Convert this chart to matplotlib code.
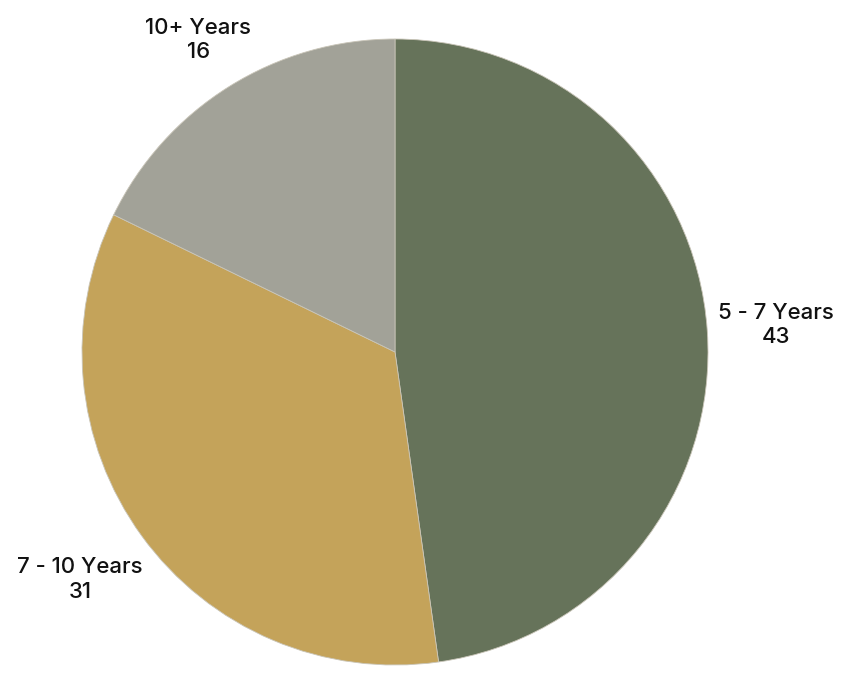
import matplotlib.pyplot as plt

labels = ["5 - 7 Years", "7 - 10 Years", "10+ Years"]
values = [43, 31, 16]
colors = ["#66735A", "#C4A35A", "#A2A298"]

plt.rcParams['font.family'] = ['Inter', 'DejaVu Sans']

fig = plt.figure(figsize=(8.46, 6.84), dpi=100)
ax = fig.add_axes([0, 0, 1, 1])

ax.pie(values, colors=colors, startangle=90, counterclock=False, radius=1,
       wedgeprops=dict(edgecolor="#c9c5b8", linewidth=0.6))

# label positions (outside the pie)
label_pos = [(1.217, 0.086), (-1.006, -0.728), (-0.629, 0.997)]
for lab, v, (x, y) in zip(labels, values, label_pos):
    ax.text(x, y, f"{lab}\n{v}", ha="center", va="center", fontsize=16,
            color="#111111", linespacing=1.3, fontweight="medium")

ax.set_xlim(-395 / 313, (846 - 395) / 313)
ax.set_ylim(-(684 - 352) / 313, 352 / 313)
ax.set_aspect("equal")
ax.axis("off")

fig.savefig("out.png", dpi=100, facecolor="white")
